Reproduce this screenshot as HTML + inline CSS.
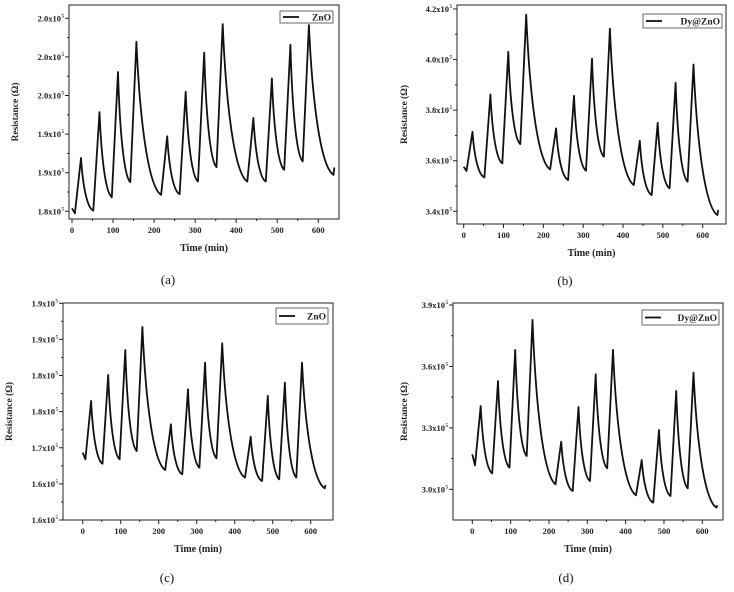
<!DOCTYPE html>
<html><head><meta charset="utf-8"><style>
html,body{margin:0;padding:0;background:#fff;}
svg{display:block;font-family:"Liberation Serif",serif;}
</style></head><body>
<svg id="fig" width="734" height="592" viewBox="0 0 734 592" xmlns="http://www.w3.org/2000/svg"></svg>
<script>
const times = [0,7,22,52,67,97,112,142,157,217,232,262,277,307,322,352,367,427,442,472,487,517,532,562,577,637,639];
const valuesA = [180390,179740,186900,180090,192840,181820,198040,183770,201950,182130,189710,182210,195480,183860,200560,185720,204240,183860,192100,183860,197220,185380,201560,186460,204110,184730,185680];
const valuesB = [357630,355920,371450,353420,386190,358950,403040,366580,417780,356580,372770,352370,385670,356060,400400,361580,412250,350400,367900,346450,375010,349080,390800,351710,398040,338550,340530];
const valuesC = [168190,167080,176780,166360,181100,167080,185250,168470,189080,165310,172900,164590,178720,165700,183150,167250,186360,164040,170850,163480,177610,163760,179820,164040,183150,162260,162820];
const valuesD = [317090,311720,340700,307810,352910,310580,368050,316280,382700,302440,323280,299190,340210,304070,356170,310260,368050,297070,314330,293490,328980,296740,348030,300490,356980,291050,292190];
const xTicks = [0,100,200,300,400,500,600];
const yTicksA = [180000,185000,190000,195000,200000,205000];
const yLabelsA = ["1.8x10","1.9x10","1.9x10","2.0x10","2.0x10","2.0x10"];
const yTicksB = [340000,360000,380000,400000,420000];
const yLabelsB = ["3.4x10","3.6x10","3.8x10","4.0x10","4.2x10"];
const yTicksC = [157000,163000,169000,175000,181000,187000,193000];
const yLabelsC = ["1.6x10","1.6x10","1.7x10","1.8x10","1.8x10","1.9x10","1.9x10"];
const yTicksD = [300000,330000,360000,390000];
const yLabelsD = ["3.0x10","3.3x10","3.6x10","3.9x10"];

const NS="http://www.w3.org/2000/svg";
const fig=document.getElementById('fig');
function mk(tag,attrs,parent){const e=document.createElementNS(NS,tag);for(const k in attrs)e.setAttribute(k,attrs[k]);(parent||fig).appendChild(e);return e;}

function panel(cfg){
  const g=mk('g',{});
  
  
  const xs=v=>cfg.x0+(v-0)/600*(cfg.x1-cfg.x0);
  const ys=v=>cfg.py0+(v-cfg.v0)/(cfg.v1-cfg.v0)*(cfg.py1-cfg.py0);
  const b=cfg.box;
  const frame=mk('rect',{x:b[0],y:b[1],width:b[2]-b[0],height:b[3]-b[1],fill:'none',stroke:'#222','stroke-width':1},g);
  
  
  xTicks.forEach((t,i)=>{
    const x=xs(t);
    mk('line',{x1:x,y1:b[3],x2:x,y2:b[3]+4,stroke:'#222','stroke-width':1},g);
    if(i<xTicks.length-1){const xm=xs(t+50);mk('line',{x1:xm,y1:b[3],x2:xm,y2:b[3]+2,stroke:'#222','stroke-width':1},g);}
    const tx=mk('text',{x:x,y:b[3]+14,'font-size':8.5,'font-weight':'bold','text-anchor':'middle',fill:'#222'},g);
    tx.textContent=t;
    
    
  });
  cfg.yt.forEach((v,i)=>{
    const y=ys(v);
    mk('line',{x1:b[0]-4,y1:y,x2:b[0],y2:y,stroke:'#222','stroke-width':1},g);
    if(i<cfg.yt.length-1){const ym=(y+ys(cfg.yt[i+1]))/2;mk('line',{x1:b[0]-2,y1:ym,x2:b[0],y2:ym,stroke:'#222','stroke-width':1},g);}
    const tx=mk('text',{x:b[0]-8,y:y+3,'font-size':8.5,'font-weight':'bold','text-anchor':'end',fill:'#222'},g);
    tx.textContent=cfg.yl[i];
    
    
    const sup=mk('text',{x:b[0]-5,y:y-1,'font-size':5,'font-weight':'bold','text-anchor':'end',fill:'#222'},g);
    sup.textContent='5';
  });
  const xt=mk('text',{x:(b[0]+b[2])/2,y:b[3]+32,'font-size':10,'font-weight':'bold','text-anchor':'middle',fill:'#222'},g);
  xt.textContent='Time (min)';
  
  
  const cy=(b[1]+b[3])/2;
  const yt=mk('text',{x:cfg.ytx,y:cy,'font-size':9.5,'font-weight':'bold','text-anchor':'middle',fill:'#222',transform:`rotate(-90 ${cfg.ytx} ${cy})`},g);
  yt.textContent='Resistance (Ω)';
  
  
  const vals=cfg.vals;
  let d=`M${xs(times[0]).toFixed(1)},${ys(vals[0]).toFixed(1)}`;
  for(let i=1;i<times.length;i++){
    const xa=xs(times[i-1]),ya=ys(vals[i-1]),xb=xs(times[i]),yb=ys(vals[i]);
    const dx=xb-xa,dy=yb-ya;
    if(dy>0 && dx>8){
      d+=` C${(xa+dx*0.15).toFixed(1)},${(ya+dy*0.55).toFixed(1)} ${(xa+dx*0.5).toFixed(1)},${(yb-dy*0.05).toFixed(1)} ${xb.toFixed(1)},${yb.toFixed(1)}`;
    } else if(dy<0 && dx>8){
      d+=` C${(xa+dx*0.1).toFixed(1)},${(ya+dy*0.6).toFixed(1)} ${(xa+dx*0.6).toFixed(1)},${(yb-dy*0.25).toFixed(1)} ${xb.toFixed(1)},${yb.toFixed(1)}`;
    } else d+=` L${xb.toFixed(1)},${yb.toFixed(1)}`;
  }
  const p=mk('path',{d:d,fill:'none',stroke:'#111','stroke-width':1.8,'stroke-linejoin':'round'},g);
  
  
  const L=cfg.leg;
  const lg=mk('g',{},g);
  
  
  mk('rect',{x:L[0],y:L[1],width:L[2],height:L[3],fill:'#fff',stroke:'#444','stroke-width':0.8},lg);
  mk('line',{x1:L[0]+3,y1:L[1]+L[3]/2,x2:L[0]+19,y2:L[1]+L[3]/2,stroke:'#111','stroke-width':1.8},lg);
  const lt=mk('text',{x:L[0]+L[2]-2,y:L[1]+L[3]/2+3.5,'font-size':9.5,'font-weight':'bold','text-anchor':'end',fill:'#222'},lg);
  lt.textContent=cfg.name;
  const cap=mk('text',{x:cfg.cap[0],y:cfg.cap[1],'font-size':13,'text-anchor':'middle',fill:'#111'},g);
  cap.textContent='('+cfg.id+')';
  
  
}

panel({id:'a',vals:valuesA,yt:yTicksA,yl:yLabelsA,box:[69,5,339,219],x0:72,x1:318.3,v0:180000,py0:211.3,v1:205000,py1:18.3,ytx:18,leg:[280,11,53,12],name:'ZnO',cap:[168,284]});
panel({id:'b',vals:valuesB,yt:yTicksB,yl:yLabelsB,box:[457,5,726,224],x0:463.7,x1:702.7,v0:340000,py0:211.3,v1:420000,py1:9,ytx:407,leg:[643,14,79,14],name:'Dy@ZnO',cap:[565,285]});
panel({id:'c',vals:valuesC,yt:yTicksC,yl:yLabelsC,box:[63,303,333,520],x0:82.7,x1:310.7,v0:157000,py0:520,v1:193000,py1:303.3,ytx:12,leg:[276,308,52,16],name:'ZnO',cap:[167,582]});
panel({id:'d',vals:valuesD,yt:yTicksD,yl:yLabelsD,box:[453,303,723,520],x0:472.3,x1:702.3,v0:300000,py0:489.3,v1:390000,py1:305,ytx:407,leg:[642,310,77,15],name:'Dy@ZnO',cap:[566,582]});
</script>
</body></html>
